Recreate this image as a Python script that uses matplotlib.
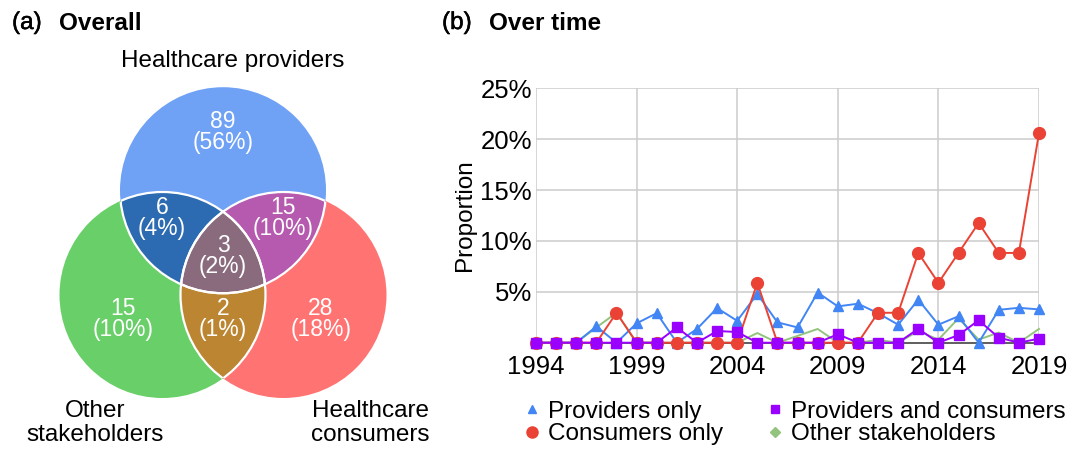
import numpy as np
import matplotlib
matplotlib.use("Agg")
import matplotlib.pyplot as plt
import matplotlib.patheffects as pe
from matplotlib.patches import Circle, Polygon
from matplotlib.lines import Line2D
from matplotlib.ticker import FuncFormatter

plt.rcParams["font.family"] = ["Liberation Sans", "DejaVu Sans"]

# ---- data ----
venn_sets = ["Healthcare providers", "Other\nstakeholders", "Healthcare\nconsumers"]
venn_counts = {"P": 89, "O": 15, "C": 28, "PO": 6, "PC": 15, "OC": 2, "POC": 3}
venn_pcts = {"P": 56, "O": 10, "C": 18, "PO": 4, "PC": 10, "OC": 1, "POC": 2}

years = list(range(1994, 2020))
providers_only = [0, 0, 0, 1.6, 0, 1.9, 2.9, 0, 1.35, 3.4, 2.15, 4.8, 2.0, 1.5,
                  4.93, 3.57, 3.83, 2.9, 1.77, 4.23, 1.77, 2.6, 0, 3.23, 3.43, 3.27]
consumers_only = [0, 0, 0, 0, 2.94, 0, 0, 0, 0, 0, 0, 5.88, 0, 0,
                  0, 0, 0, 2.94, 2.94, 8.82, 5.88, 8.82, 11.76, 8.82, 8.82, 20.6]
providers_and_consumers = [0, 0, 0, 0, 0, 0, 0, 1.5, 0, 1.15, 1.05, 0, 0, 0,
                           0, 0.83, 0, 0, 0, 1.37, 0, 0.75, 2.2, 0.5, 0, 0.4]
other_stakeholders = [0, 0, 0, 1.5, 2.94, 0, 0, 0, 0, 0, 0, 0.95, 0, 0.67,
                      1.35, 0, 0, 0.27, 0, 1.15, 0.3, 2.4, 0.3, 1.0, 0, 1.35]

fig = plt.figure(figsize=(10.75, 4.49), dpi=100)

# ---- (a) Venn ----
axv = fig.add_axes([0, 0, 451.5 / 1075, 1])
axv.set_xlim(0, 451.5)
axv.set_ylim(449, 0)
axv.set_aspect("equal")
axv.axis("off")

r = 103
d = 121
cP = np.array([223.0, 295 - d * np.sin(np.pi / 3)])
cO = np.array([223 - d / 2, 295.0])
cC = np.array([223 + d / 2, 295.0])


def lens(a, b, n=80):
    v = b - a
    dist = np.hypot(*v)
    phi = np.arctan2(v[1], v[0])
    alpha = np.arccos(dist / (2 * r))
    t1 = np.linspace(phi - alpha, phi + alpha, n)
    t2 = np.linspace(phi + np.pi - alpha, phi + np.pi + alpha, n)
    pts1 = a + r * np.c_[np.cos(t1), np.sin(t1)]
    pts2 = b + r * np.c_[np.cos(t2), np.sin(t2)]
    return np.vstack([pts1, pts2])


base = {"P": "#6FA1F5", "O": "#69CF69", "C": "#FF7473"}
centers = {"P": cP, "O": cO, "C": cC}
for k in ["P", "O", "C"]:
    axv.add_patch(Circle(centers[k], r, facecolor=base[k], edgecolor="none"))

pair_cols = {"PO": "#2C6BB1", "PC": "#B55AAE", "OC": "#BC8531"}
for k, col in pair_cols.items():
    axv.add_patch(Polygon(lens(centers[k[0]], centers[k[1]]), closed=True,
                          facecolor=col, edgecolor="none"))

clipc = Circle(cC, r, transform=axv.transData)
tri = Polygon(lens(cP, cO), closed=True, facecolor="#8A6B7D", edgecolor="none")
axv.add_patch(tri)
tri.set_clip_path(clipc)

# white borders inside the overlaps
for k in ["P", "O", "C"]:
    for other in ["P", "O", "C"]:
        if other == k:
            continue
        c = Circle(centers[k], r, facecolor="none", edgecolor="white", lw=1.6)
        axv.add_patch(c)
        c.set_clip_path(Circle(centers[other], r - 0.5, transform=axv.transData))

label_pos = {"P": (223, 132), "PO": (162, 218), "PC": (283, 218), "POC": (223, 256),
             "O": (123, 319), "OC": (223, 319), "C": (321, 319)}
for k, (x, y) in label_pos.items():
    axv.text(x, y, f"{venn_counts[k]}\n({venn_pcts[k]}%)", color="white",
             ha="center", va="center", fontsize=16.5, linespacing=0.92)

axv.text(233, 61, venn_sets[0], ha="center", va="center", fontsize=17.5)
axv.text(95, 423, venn_sets[1], ha="center", va="center", fontsize=17.5,
         linespacing=1.08)
axv.text(370, 423, venn_sets[2], ha="center", va="center", fontsize=17.5,
         linespacing=1.08)

ty = 1 - 23 / 449
semi = [pe.withStroke(linewidth=0.35, foreground="black")]
fig.text(12 / 1075, ty, "(a)", fontsize=17.5, va="center", path_effects=semi)
fig.text(59 / 1075, ty, "Overall", fontsize=17.5, va="center", fontweight="bold")
fig.text(442 / 1075, ty, "(b)", fontsize=17.5, va="center", path_effects=semi)
fig.text(489 / 1075, ty, "Over time", fontsize=17.5, va="center", fontweight="bold")

# ---- (b) Over time ----
ax = fig.add_axes([536 / 1075, 1 - 342.7 / 449, 503 / 1075, 254.4 / 449])
ax.plot(years, np.array(other_stakeholders) / 100, color="#93C47D", lw=1.4, zorder=3,
        clip_on=False)
ax.plot(years, np.array(providers_only) / 100, color="#4285F4", lw=1.4, marker="^",
        markersize=7.5, zorder=4, clip_on=False)
ax.plot(years, np.array(consumers_only) / 100, color="#EA4335", lw=1.4, marker="o",
        markersize=8.5, zorder=5, clip_on=False)
ax.plot(years, np.array(providers_and_consumers) / 100, color="#9900FF", lw=1.4,
        marker="s", markersize=6.5, zorder=6, clip_on=False)

ax.set_xlim(1994, 2019)
ax.set_ylim(0, 0.25)
ax.set_xticks(range(1994, 2020, 5))
ax.set_yticks([0.05, 0.10, 0.15, 0.20, 0.25])
ax.yaxis.set_major_formatter(FuncFormatter(lambda v, p: f"{v * 100:.0f}%"))
ax.tick_params(length=0, labelsize=18.5)
ax.tick_params(axis="x", pad=9)
ax.tick_params(axis="y", pad=3)
ax.grid(True, color="#CCCCCC", lw=1.1)
ax.set_axisbelow(True)
for s in ["left", "right", "top"]:
    ax.spines[s].set_visible(False)
ax.spines["bottom"].set_color("#333333")
ax.spines["bottom"].set_linewidth(1.1)
ax.spines["bottom"].set_zorder(3.5)
ax.set_ylabel("Proportion", fontsize=17.5, labelpad=3)

handles = [
    Line2D([], [], ls="none", marker="^", color="#4285F4", markersize=6),
    Line2D([], [], ls="none", marker="o", color="#EA4335", markersize=8),
    Line2D([], [], ls="none", marker="s", color="#9900FF", markersize=6),
    Line2D([], [], ls="none", marker="D", color="#93C47D", markersize=5),
]
labels = ["Providers only", "Consumers only", "Providers and consumers", "Other stakeholders"]
leg_kw = dict(loc="center left", frameon=False, fontsize=17.5, handlelength=0.6,
              handletextpad=0.35, labelspacing=0.0, borderaxespad=0, borderpad=0)
fig.legend(handles[:2], labels[:2], bbox_to_anchor=(525 / 1075, 1 - 423 / 449), **leg_kw)
fig.legend(handles[2:], labels[2:], bbox_to_anchor=(768 / 1075, 1 - 423 / 449), **leg_kw)

plt.savefig("out.png", dpi=100)
